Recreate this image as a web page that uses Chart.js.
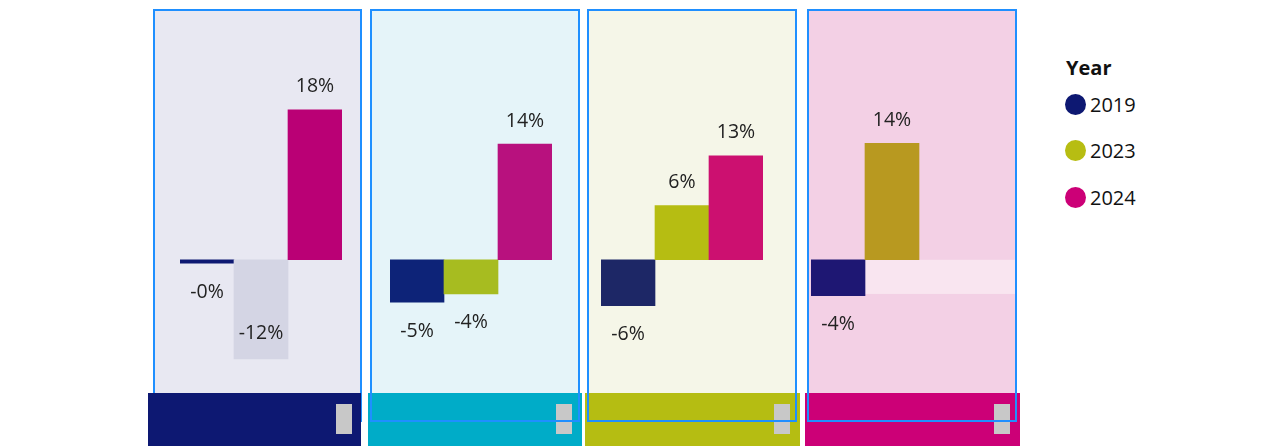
<!DOCTYPE html>
<html>
<head>
<meta charset="utf-8">
<script src="https://cdn.jsdelivr.net/npm/chart.js@4/dist/chart.umd.min.js"></script>
<style>
  body{margin:0;background:#fff;width:1263px;height:446px;overflow:hidden;position:relative;font-family:"Segoe UI","Open Sans","Noto Sans",sans-serif;}
  .bg,.frame,.strip,.grip,canvas{position:absolute;}
  .frame{box-sizing:border-box;border:2px solid #1f8fff;}
  .grip{background:#c8c8c8;width:16px;height:30px;top:404px;}
  .legend{position:absolute;left:1065px;top:55px;color:#111;}
  .legend .title{font-weight:bold;font-size:20px;line-height:26px;height:26px;padding-left:1px;}
  .legend .item{display:flex;align-items:center;height:46.5px;font-size:20px;}
  .legend .dot{width:21px;height:21px;border-radius:50%;margin-right:4px;}
</style>
</head>
<body>
<div class="legend" id="legend"><div class="title">Year</div></div>
<script>
// daten
const categories = ["2019", "2023", "2024"];
const panel1Values = [-0.4, -11.9, 18.0];
const panel2Values = [-5.1, -4.1, 13.9];
const panel3Values = [-5.5, 6.5, 12.5];
const panel4Values = [-4.3, 14.0, null];
const panel1Labels = ["-0%", "-12%", "18%"];
const panel2Labels = ["-5%", "-4%", "14%"];
const panel3Labels = ["-6%", "6%", "13%"];
const panel4Labels = ["-4%", "14%", ""];
const legendColors = ["#0d1872", "#b7bd12", "#cc0077"];

//layout der panels (position, farben)
const panels = [
  {values: panel1Values, labels: panel1Labels, colors: ["#0d1872", "#d4d5e4", "#ba0075"], inside: [false, true, false],
   bg: "#e8e8f2", strip: "#0d1872", left: 153, width: 209, stripL: 148, stripW: 213, grip: 336, canvasL: 180, padR: 0, frameTop: false},
  {values: panel2Values, labels: panel2Labels, colors: ["#0d2378", "#a7bc20", "#b8117e"], inside: [false, false, false],
   bg: "#e5f4f9", strip: "#00acc8", left: 370, width: 210, stripL: 368, stripW: 214, grip: 556, canvasL: 390, padR: 0, frameTop: true},
  {values: panel3Values, labels: panel3Labels, colors: ["#1d2766", "#b6bd12", "#cc1070"], inside: [false, false, false],
   bg: "#f5f6e8", strip: "#b5bd12", left: 587, width: 210, stripL: 585, stripW: 215, grip: 774, canvasL: 601, padR: 0, frameTop: true},
  {values: panel4Values, labels: panel4Labels, colors: ["#1e1773", "#b89920", "#cc0077"], inside: [false, false, false],
   bg: "#f3d0e5", strip: "#cc0077", left: 807, width: 210, stripL: 805, stripW: 215, grip: 994, canvasL: 811, padR: 43, frameTop: true,
   band: {from: 1, value: -4.1, color: "#f9e5f0"}}
];

//beschriftung der balken
const barLabels = {
  id: "barLabels",
  afterDatasetsDraw(chart, args, opts){
    let ctx = chart.ctx;
    let meta = chart.getDatasetMeta(0);
    ctx.save();
    ctx.font = "19.5px 'Segoe UI','Open Sans','Noto Sans',sans-serif";
    ctx.fillStyle = "#222";
    ctx.textAlign = "center";
    ctx.textBaseline = "middle";
    meta.data.forEach((bar, i) => {
      let v = opts.values[i];
      if(v === null || !opts.labels[i]) return;
      let y;
      if(v >= 0) y = bar.y - 23;
      else if(opts.inside[i]) y = bar.y - 25;
      else y = bar.y + 29;
      ctx.fillText(opts.labels[i], bar.x, y);
    });
    ctx.restore();
  }
};

//helles band (panel 4)
const band = {
  id: "band",
  beforeDatasetsDraw(chart, args, opts){
    if(!opts.value) return;
    let meta = chart.getDatasetMeta(0);
    let bar = meta.data[opts.from];
    let y0 = chart.scales.y.getPixelForValue(0);
    let y1 = chart.scales.y.getPixelForValue(opts.value);
    let x0 = bar.x - bar.width / 2;
    chart.ctx.save();
    chart.ctx.fillStyle = opts.color;
    chart.ctx.fillRect(x0, y0, chart.width - x0, y1 - y0);
    chart.ctx.restore();
  }
};

function addDiv(cls, css){
  let d = document.createElement("div");
  d.className = cls;
  Object.assign(d.style, css);
  document.body.appendChild(d);
  return d;
}

panels.forEach((p) => {
  addDiv("bg", {left: p.left + "px", top: "9px", width: p.width + "px", height: "413px", background: p.bg, zIndex: 0});
  addDiv("frame", {left: p.left + "px", top: "9px", width: p.width + "px", height: "413px", zIndex: p.frameTop ? 3 : 1});
  addDiv("strip", {left: p.stripL + "px", top: "393px", width: p.stripW + "px", height: "53px", background: p.strip, zIndex: 2});
  addDiv("grip", {left: p.grip + "px", zIndex: 2});

  let cv = document.createElement("canvas");
  let w = 162 + p.padR;
  cv.width = w;
  cv.height = 383;
  cv.style.left = p.canvasL + "px";
  cv.style.top = "10px";
  cv.style.width = w + "px";
  cv.style.height = "383px";
  cv.style.zIndex = 2;
  document.body.appendChild(cv);

  new Chart(cv.getContext("2d"), {
    type: "bar",
    data: {
      labels: categories,
      datasets: [{
        data: p.values,
        backgroundColor: p.colors,
        borderWidth: 0,
        categoryPercentage: 1,
        barPercentage: 1
      }]
    },
    options: {
      responsive: false,
      animation: false,
      layout: {padding: {left: 0, right: p.padR, top: 0, bottom: 0}},
      scales: {
        x: {display: false},
        y: {display: false, min: -16, max: 30}
      },
      plugins: {
        legend: {display: false},
        tooltip: {enabled: false},
        barLabels: {values: p.values, labels: p.labels, inside: p.inside},
        band: p.band || {}
      }
    },
    plugins: [band, barLabels]
  });
});

//legende
let legend = document.getElementById("legend");
categories.forEach((c, i) => {
  let item = document.createElement("div");
  item.className = "item";
  item.innerHTML = '<span class="dot" style="background:' + legendColors[i] + '"></span><span>' + c + '</span>';
  legend.appendChild(item);
});
</script>
</body>
</html>
